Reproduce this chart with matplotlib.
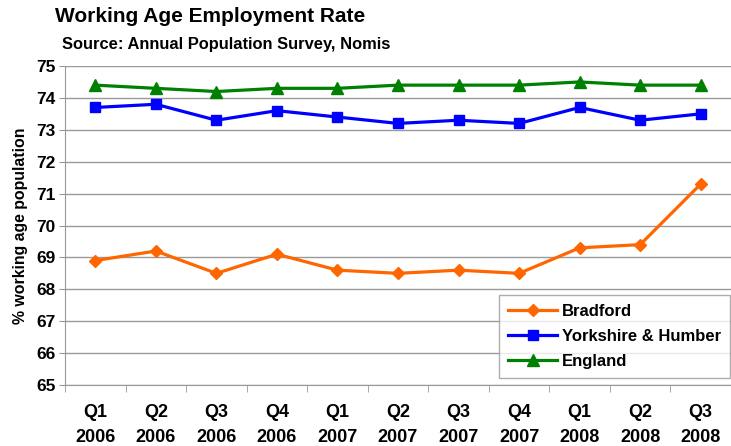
import matplotlib
matplotlib.use("Agg")
import matplotlib.pyplot as plt
import numpy as np

plt.rcParams["font.family"] = ["Liberation Sans", "DejaVu Sans"]
plt.rcParams["font.weight"] = "bold"

quarters = ["Q1\n2006", "Q2\n2006", "Q3\n2006", "Q4\n2006", "Q1\n2007", "Q2\n2007",
            "Q3\n2007", "Q4\n2007", "Q1\n2008", "Q2\n2008", "Q3\n2008"]
bradford = [68.9, 69.2, 68.5, 69.1, 68.6, 68.5, 68.6, 68.5, 69.3, 69.4, 71.3]
yorkshire = [73.7, 73.8, 73.3, 73.6, 73.4, 73.2, 73.3, 73.2, 73.7, 73.3, 73.5]
england = [74.4, 74.3, 74.2, 74.3, 74.3, 74.4, 74.4, 74.4, 74.5, 74.4, 74.4]

W, H = 731, 446
fig = plt.figure(figsize=(W / 100, H / 100), dpi=100)
# plot area in pixel coords: left 65, right ~736 (cropped), top 66, bottom 385
ax = fig.add_axes([65 / W, 1 - 385 / H, (W - 65) / W, (385 - 66) / H])

x = np.arange(len(quarters))
ax.plot(x, bradford, color="#FF6600", lw=2.3, marker="D", ms=6, label="Bradford")
ax.plot(x, yorkshire, color="#0000FF", lw=2.3, marker="s", ms=7.5, label="Yorkshire & Humber")
ax.plot(x, england, color="#008000", lw=2.3, marker="^", ms=8, label="England")

ax.set_ylim(65, 75)
ax.set_yticks(range(65, 76))
ax.set_xlim(-0.5, -0.5 + (W - 65) / 60.9)
ax.set_xticks(x)
ax.set_xticklabels(quarters, linespacing=1.55)
ax.set_xticks(np.arange(-0.5, len(quarters)), minor=True)
ax.grid(axis="y", color="#999999", lw=1)
ax.set_axisbelow(True)

for s in ["top", "right"]:
    ax.spines[s].set_visible(False)
ax.spines["left"].set_color("#999999")
ax.spines["bottom"].set_color("#999999")
ax.tick_params(axis="y", length=4, color="#999999", labelsize=12.5, pad=3)
ax.tick_params(axis="x", which="major", length=0, labelsize=13, pad=14)
ax.tick_params(axis="x", which="minor", length=5, color="#999999")

ax.set_ylabel("% working age population", fontsize=11.4, fontweight="bold", labelpad=6)

fig.text(55 / W, 1 - 17 / H, "Working Age Employment Rate", fontsize=15,
         fontweight="bold", va="center", ha="left")
fig.text(62 / W, 1 - 44 / H, "Source: Annual Population Survey, Nomis", fontsize=11.9,
         fontweight="bold", va="center", ha="left")

leg = ax.legend(loc="lower right", bbox_to_anchor=((730 - 65) / (W - 65), (385 - 378) / (385 - 66)),
                fontsize=12, frameon=True, fancybox=False, edgecolor="#999999",
                handlelength=2.9, handletextpad=0.3, borderpad=0.55, labelspacing=0.6,
                borderaxespad=0)
for t in leg.get_texts():
    t.set_fontweight("bold")

fig.savefig("out.png", dpi=100)
